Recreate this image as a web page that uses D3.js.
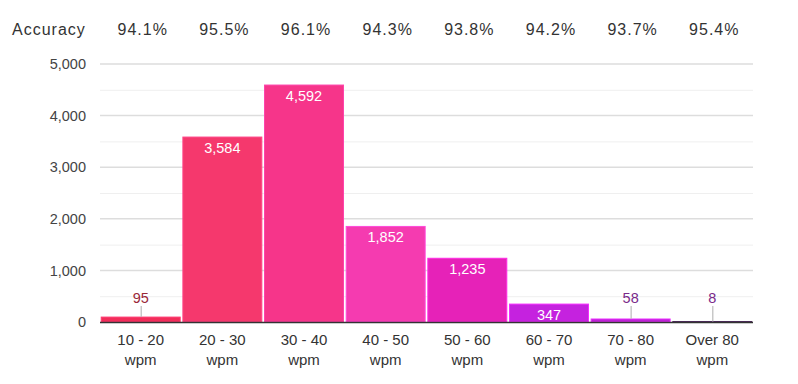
<!DOCTYPE html>
<html><head><meta charset="utf-8">
<script src="https://cdn.jsdelivr.net/npm/d3@7"></script>
<style>body{margin:0;background:#fff}svg{display:block;font-family:"Liberation Sans",Arial,sans-serif}</style>
</head><body><svg id="c" width="798" height="384"></svg>
<script>
const categories = ["10 - 20|wpm","20 - 30|wpm","30 - 40|wpm","40 - 50|wpm","50 - 60|wpm","60 - 70|wpm","70 - 80|wpm","Over 80|wpm"];
const counts = [95, 3584, 4592, 1852, 1235, 347, 58, 8];
const accuracy = ["94.1%","95.5%","96.1%","94.3%","93.8%","94.2%","93.7%","95.4%"];
const colors = ["#f22d5a","#f5386d","#f6358a","#f53bb0","#e622b8","#c522df","#bd22d6","#3a1848"];
const outsideLabelColors = ["#9a2838","#9a2838","#9a2838","#9a2838","#9a2838","#7a2a8a","#7a2a8a","#7a2a8a"];
const yTicks = [0,1000,2000,3000,4000,5000];

const svg = d3.select("#c");
const x = d3.scaleBand().domain(categories).range([100,753]).paddingInner(0.033).paddingOuter(0.015);
const y = d3.scaleLinear().domain([0,5000]).range([322,64]);

// minor grid
svg.append("g").selectAll("line").data(d3.range(500,5000,1000)).join("line")
  .attr("x1",100).attr("x2",753).attr("y1",d=>y(d)+0.5).attr("y2",d=>y(d)+0.5)
  .attr("stroke","#efefef").attr("stroke-width",1);
// major grid
svg.append("g").selectAll("line").data(yTicks.filter(d=>d>0)).join("line")
  .attr("x1",100).attr("x2",753).attr("y1",d=>y(d)).attr("y2",d=>y(d))
  .attr("stroke","#dddddd").attr("stroke-width",1.5);

// y axis labels
const ya = svg.append("g").attr("transform","translate(100,0)")
  .call(d3.axisLeft(y).tickValues(yTicks).tickFormat(d3.format(",")).tickSize(0).tickPadding(14));
ya.select(".domain").remove();
ya.selectAll("text").attr("font-size",14.5).attr("fill","#444").attr("font-family","Liberation Sans, Arial, sans-serif");

// bars
svg.append("g").selectAll("rect").data(counts).join("rect")
  .attr("x",(d,i)=>x(categories[i])).attr("width",x.bandwidth())
  .attr("y",d=>y(d)).attr("height",d=>y(0)-y(d))
  .attr("fill",(d,i)=>colors[i])
  .attr("stroke",(d,i)=>d3.color(colors[i]).brighter(0.6)).attr("stroke-width",1);

// baseline
svg.append("line").attr("x1",100).attr("x2",753).attr("y1",y(0)+0.5).attr("y2",y(0)+0.5)
  .attr("stroke","#333").attr("stroke-width",1.5);

// value labels
const lab = svg.append("g");
counts.forEach((v,i)=>{
  const cx = x(categories[i]) + x.bandwidth()/2;
  const h = y(0)-y(v);
  if (h > 15) {
    lab.append("text").attr("x",cx).attr("y",y(v)+Math.min(16, h-2)).attr("text-anchor","middle")
      .attr("font-size",14.5).attr("fill","#fff").text(d3.format(",")(v));
  } else {
    lab.append("line").attr("x1",cx+0.5).attr("x2",cx+0.5).attr("y1",y(v)).attr("y2",306)
      .attr("stroke","#bbb").attr("stroke-width",1.2);
    lab.append("text").attr("x",cx).attr("y",303).attr("text-anchor","middle")
      .attr("font-size",14.5).attr("fill",outsideLabelColors[i]).text(d3.format(",")(v));
  }
});

// x labels
const xl = svg.append("g");
categories.forEach((c,i)=>{
  const cx = x(c) + x.bandwidth()/2;
  const parts = c.split("|");
  const t = xl.append("text").attr("text-anchor","middle").attr("font-size",15).attr("fill","#333");
  t.append("tspan").attr("x",cx).attr("y",345).text(parts[0]);
  t.append("tspan").attr("x",cx).attr("y",365).text(parts[1]);
});

// accuracy row
svg.append("text").attr("x",12).attr("y",35).attr("font-size",16).attr("letter-spacing",1)
  .attr("fill","#333").text("Accuracy");
accuracy.forEach((a,i)=>{
  svg.append("text").attr("x",x(categories[i])+x.bandwidth()/2+2).attr("y",35)
    .attr("text-anchor","middle").attr("font-size",16).attr("letter-spacing",1)
    .attr("fill","#333").text(a);
});
</script></body></html>
